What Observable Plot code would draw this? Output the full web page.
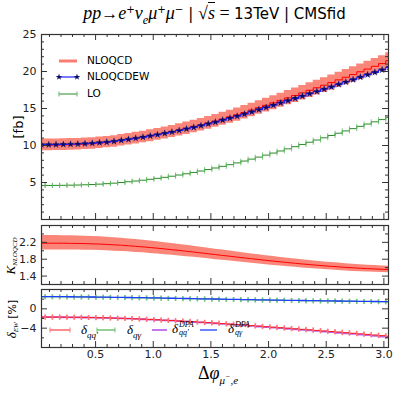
<!DOCTYPE html>
<html><head><meta charset="utf-8">
<script src="https://cdn.jsdelivr.net/npm/d3@7"></script>
<script src="https://cdn.jsdelivr.net/npm/@observablehq/plot@0.6"></script>
<style>
body{margin:0;background:#fff;}
#root{position:relative;width:399px;height:399px;overflow:hidden;font-family:"DejaVu Sans",sans-serif;color:#000;background:#fff;}
#root svg.p{position:absolute;left:0;}
.abs{position:absolute;white-space:nowrap;line-height:1;}
.m{font-family:"Liberation Serif",serif;font-style:italic;}
.rot{transform:translate(-50%,-50%) rotate(-90deg);}
sup,sub{font-size:68%;line-height:0;}
.ss{display:inline-flex;flex-direction:column;vertical-align:middle;font-size:62%;line-height:1.05;margin-left:1px;}
</style></head><body><div id="root"></div>
<script>
// ---------------- data ----------------
const dphi = [0.031,0.094,0.157,0.220,0.283,0.346,0.408,0.471,0.534,0.597,0.660,0.723,0.785,0.848,0.911,0.974,1.037,1.100,1.162,1.225,1.288,1.351,1.414,1.477,1.539,1.602,1.665,1.728,1.791,1.854,1.916,1.979,2.042,2.105,2.168,2.231,2.293,2.356,2.419,2.482,2.545,2.608,2.670,2.733,2.796,2.859,2.922,2.985,3.047];
const halfBin = 0.0314;
const sigmaLO = [4.60,4.60,4.61,4.62,4.64,4.66,4.69,4.73,4.78,4.84,4.91,5.00,5.10,5.20,5.31,5.43,5.56,5.70,5.85,6.01,6.18,6.36,6.55,6.75,6.96,7.18,7.41,7.65,7.90,8.16,8.43,8.70,8.98,9.26,9.55,9.84,10.14,10.44,10.74,11.04,11.35,11.66,11.97,12.28,12.59,12.90,13.20,13.50,13.80];
const sigmaNLOQCD = [10.03,10.03,10.05,10.07,10.10,10.13,10.18,10.24,10.32,10.41,10.51,10.66,10.81,10.95,11.11,11.28,11.46,11.65,11.85,12.07,12.29,12.53,12.77,13.03,13.29,13.57,13.86,14.15,14.46,14.78,15.11,15.43,15.76,16.09,16.43,16.76,17.11,17.46,17.80,18.14,18.50,18.87,19.22,19.59,19.96,20.33,20.70,21.07,21.46];
const sigmaNLOQCDHigh = [10.88,10.88,10.89,10.90,10.93,10.95,11.00,11.06,11.14,11.23,11.33,11.48,11.63,11.78,11.94,12.12,12.30,12.50,12.70,12.93,13.16,13.40,13.65,13.92,14.19,14.48,14.77,15.07,15.39,15.72,16.06,16.39,16.73,17.07,17.42,17.76,18.12,18.47,18.82,19.17,19.53,19.91,20.27,20.64,21.02,21.39,21.77,22.14,22.53];
const sigmaNLOQCDLow = [9.28,9.28,9.31,9.33,9.36,9.40,9.45,9.51,9.59,9.68,9.78,9.92,10.07,10.20,10.36,10.52,10.70,10.88,11.07,11.28,11.50,11.73,11.96,12.21,12.46,12.73,13.01,13.29,13.59,13.89,14.21,14.52,14.84,15.16,15.49,15.81,16.15,16.49,16.82,17.15,17.50,17.86,18.20,18.56,18.92,19.28,19.64,20.01,20.39];
const sigmaNLOQCDEW = [10.11,10.11,10.13,10.15,10.17,10.20,10.25,10.30,10.38,10.46,10.56,10.70,10.84,10.98,11.13,11.29,11.46,11.64,11.82,12.03,12.24,12.46,12.68,12.93,13.17,13.43,13.70,13.96,14.25,14.55,14.85,15.14,15.45,15.75,16.06,16.36,16.68,17.00,17.30,17.61,17.93,18.27,18.58,18.91,19.24,19.57,19.89,20.22,20.56];
const deltaQQ = [-1.70,-1.70,-1.71,-1.72,-1.73,-1.75,-1.77,-1.80,-1.83,-1.87,-1.91,-1.96,-2.01,-2.07,-2.13,-2.20,-2.27,-2.34,-2.42,-2.50,-2.58,-2.67,-2.76,-2.85,-2.95,-3.05,-3.15,-3.25,-3.36,-3.47,-3.58,-3.69,-3.80,-3.91,-4.02,-4.13,-4.24,-4.35,-4.46,-4.57,-4.69,-4.81,-4.93,-5.05,-5.17,-5.29,-5.41,-5.54,-5.67];
const deltaQG = [2.50,2.50,2.49,2.48,2.47,2.46,2.44,2.42,2.40,2.38,2.36,2.34,2.32,2.29,2.27,2.24,2.22,2.19,2.16,2.14,2.11,2.08,2.05,2.03,2.00,1.97,1.94,1.92,1.89,1.86,1.84,1.81,1.79,1.76,1.74,1.72,1.69,1.67,1.65,1.63,1.61,1.59,1.57,1.55,1.53,1.51,1.49,1.47,1.46];
const deltaQQdpa = [-1.72,-1.72,-1.73,-1.74,-1.75,-1.77,-1.79,-1.82,-1.85,-1.89,-1.93,-1.98,-2.03,-2.09,-2.16,-2.23,-2.30,-2.38,-2.46,-2.54,-2.63,-2.72,-2.81,-2.91,-3.01,-3.11,-3.21,-3.32,-3.43,-3.54,-3.66,-3.77,-3.89,-4.00,-4.12,-4.23,-4.35,-4.47,-4.58,-4.70,-4.82,-4.95,-5.07,-5.20,-5.33,-5.46,-5.59,-5.73,-5.87];
const deltaQGdpa = [2.53,2.53,2.52,2.51,2.50,2.49,2.47,2.45,2.43,2.41,2.39,2.37,2.35,2.32,2.30,2.27,2.25,2.22,2.19,2.17,2.14,2.11,2.08,2.06,2.03,2.00,1.97,1.95,1.92,1.89,1.87,1.84,1.82,1.79,1.77,1.75,1.72,1.70,1.68,1.66,1.64,1.62,1.60,1.58,1.56,1.54,1.52,1.50,1.49];

const xMajorTicks = [0.5,1.0,1.5,2.0,2.5,3.0];
const xTickLabels = ["0.5","1.0","1.5","2.0","2.5","3.0"];
const xMinorTicks = [0.1,0.2,0.3,0.4,0.6,0.7,0.8,0.9,1.1,1.2,1.3,1.4,1.6,1.7,1.8,1.9,2.1,2.2,2.3,2.4,2.6,2.7,2.8,2.9];
const yMainMajor = [5,10,15,20];
const yMainLabels = [5,10,15,20,25];
const yMainMinor = [1,2,3,4,6,7,8,9,11,12,13,14,16,17,18,19,21,22,23,24];
const kMajor = [1.4,1.8,2.2];
const kMinor = [1.6,2.0,2.4];
const dMajor = [-4,0];
const dLabels = ["\u22124","0"];
const dMinor = [-6,-2,2];

// ---------------- layout ----------------
const W = 399, ML = 41, MR = 11;
const FW = W - ML - MR;
const xDomain = [0.031, 3.04];
const frameColor = "#333";

const rows = dphi.map((x,i)=>({
  x, lo: sigmaLO[i], nlo: sigmaNLOQCD[i], bHi: sigmaNLOQCDHigh[i], bLo: sigmaNLOQCDLow[i],
  ew: sigmaNLOQCDEW[i], k: sigmaNLOQCD[i]/sigmaLO[i], kHi: sigmaNLOQCDHigh[i]/sigmaLO[i], kLo: sigmaNLOQCDLow[i]/sigmaLO[i],
  dqq: deltaQQ[i], dqg: deltaQG[i], dqqD: deltaQQdpa[i], dqgD: deltaQGdpa[i]
}));
function caps(key){ const out=[]; rows.forEach(r=>{ out.push({x:r.x-halfBin,y:r[key]}); out.push({x:r.x+halfBin,y:r[key]}); }); return out; }
const vbar = {draw(ctx,size){ const h=Math.sqrt(size/Math.PI); ctx.moveTo(0,-h); ctx.lineTo(0,h); }};

function frameTicks(xMaj,xMin,yMaj,yMin,fh){
  const m=[]; const o={stroke:frameColor,strokeWidth:1};
  for (const [v,len] of [[xMaj,6],[xMin,3]]) {
    m.push(Plot.ruleX(v,{...o,insetTop:fh-len}));
    m.push(Plot.ruleX(v,{...o,insetBottom:fh-len}));
  }
  for (const [v,len] of [[yMaj,6],[yMin,3]]) {
    m.push(Plot.ruleY(v,{...o,insetRight:FW-len}));
    m.push(Plot.ruleY(v,{...o,insetLeft:FW-len}));
  }
  return m;
}
const style = {background:"transparent",fontFamily:"DejaVu Sans",overflow:"visible"};
const root = document.getElementById("root");
function place(svg, top){ svg.classList.add("p"); svg.style.top = top+"px"; root.appendChild(svg); }

// main panel: frame 34..219
const fh1 = 185;
place(Plot.plot({
  width: W, height: 222, marginLeft: ML, marginRight: MR, marginTop: 34, marginBottom: 3, style,
  x:{domain:xDomain, axis:null}, y:{domain:[0,25], axis:null},
  marks:[
    Plot.areaY(rows,{x:"x",y1:"bLo",y2:"bHi",curve:"step",fill:"#fa7f72",fillOpacity:0.95,clip:true}),
    Plot.lineY(rows,{x:"x",y:"nlo",curve:"step",stroke:"#ff0000",strokeWidth:1,clip:true}),
    Plot.lineY(rows,{x:"x",y:"ew",curve:"step",stroke:"#2020ff",strokeWidth:1.2,clip:true}),
    Plot.dot(rows,{x:"x",y:"ew",symbol:"star",r:2.1,fill:"#0a0a6a",stroke:"#0a0a6a",strokeWidth:0.3,clip:true}),
    Plot.lineY(rows,{x:"x",y:"lo",curve:"step",stroke:"#2b8a2b",strokeWidth:1,clip:true}),
    Plot.dot(caps("lo"),{x:"x",y:"y",symbol:vbar,r:2.5,fill:"none",stroke:"#5cb85c",strokeOpacity:0.8,strokeWidth:1,clip:true}),
    Plot.frame({stroke:frameColor,strokeWidth:1.2}),
    ...frameTicks(xMajorTicks,xMinorTicks,yMainMajor,yMainMinor,fh1),
    Plot.text(yMainLabels,{y:d=>d,text:d=>String(d),frameAnchor:"left",dx:-5,textAnchor:"end",fontSize:11,fill:"#222"})
  ]
}), 0);

// K panel: frame 225..284
const fh2 = 59;
place(Plot.plot({
  width: W, height: 64, marginLeft: ML, marginRight: MR, marginTop: 3, marginBottom: 2, style,
  x:{domain:xDomain, axis:null}, y:{domain:[1.2,2.6], axis:null},
  marks:[
    Plot.areaY(rows,{x:"x",y1:"kLo",y2:"kHi",fill:"#fa7f72",fillOpacity:0.95,clip:true}),
    Plot.lineY(rows,{x:"x",y:"k",stroke:"#ff0000",strokeWidth:1,clip:true}),
    Plot.frame({stroke:frameColor,strokeWidth:1.2}),
    ...frameTicks(xMajorTicks,xMinorTicks,kMajor,kMinor,fh2),
    Plot.text(kMajor,{y:d=>d,text:d=>d.toFixed(1),frameAnchor:"left",dx:-5,textAnchor:"end",fontSize:11,fill:"#222"})
  ]
}), 222);

// delta panel: frame 289..347
const fh3 = 58;
place(Plot.plot({
  width: W, height: 113, marginLeft: ML, marginRight: MR, marginTop: 3, marginBottom: 52, style,
  x:{domain:xDomain, axis:null}, y:{domain:[-8,4], axis:null},
  marks:[
    Plot.lineY(rows,{x:"x",y:"dqg",curve:"step",stroke:"#2ca02c",strokeWidth:1,clip:true}),
    Plot.dot(caps("dqg"),{x:"x",y:"y",symbol:vbar,r:2.5,fill:"none",stroke:"#6cc46c",strokeOpacity:0.8,clip:true}),
    Plot.lineY(rows,{x:"x",y:"dqgD",curve:"step",stroke:"#1f3dff",strokeWidth:1.3,clip:true}),
    Plot.lineY(rows,{x:"x",y:"dqqD",curve:"step",stroke:"#b24be6",strokeWidth:1.8,strokeOpacity:0.85,clip:true}),
    Plot.lineY(rows,{x:"x",y:"dqq",curve:"step",stroke:"#ff1a1a",strokeWidth:1,clip:true}),
    Plot.dot(caps("dqq"),{x:"x",y:"y",symbol:vbar,r:2.5,fill:"none",stroke:"#ff7070",strokeOpacity:0.8,clip:true}),
    Plot.frame({stroke:frameColor,strokeWidth:1.2}),
    ...frameTicks(xMajorTicks,xMinorTicks,dMajor,dMinor,fh3),
    Plot.text(dMajor,{y:d=>d,text:(d,i)=>dLabels[i],frameAnchor:"left",dx:-5,textAnchor:"end",fontSize:11,fill:"#222"}),
    Plot.text(xMajorTicks,{x:d=>d,text:(d,i)=>xTickLabels[i],frameAnchor:"bottom",lineAnchor:"top",dy:3,fontSize:11,fill:"#222"})
  ]
}), 286);

// ---------------- legends (symbols) ----------------
const star = d3.symbol(d3.symbolStar, 2.1*2.1*Math.PI)();
const vb = (x,y,c)=>`<line x1="${x}" x2="${x}" y1="${y-2.5}" y2="${y+2.5}" stroke="${c}"/>`;
const overlay = `<svg width="399" height="399" style="position:absolute;left:0;top:0;pointer-events:none">
<line x1="59" x2="77" y1="61" y2="61" stroke="#fa7f72" stroke-width="3"/>
<line x1="59" x2="77" y1="77" y2="77" stroke="#2020ff" stroke-width="1.2"/>
<path d="${star}" transform="translate(59,77)" fill="#0a0a6a"/><path d="${star}" transform="translate(77,77)" fill="#0a0a6a"/>
<line x1="59" x2="77" y1="94" y2="94" stroke="#2b8a2b"/>${vb(59,94,"#5cb85c")}${vb(77,94,"#5cb85c")}
<line x1="50" x2="70" y1="330" y2="330" stroke="#ff1a1a"/>${vb(50,330,"#ff7070")}${vb(70,330,"#ff7070")}
<line x1="97" x2="115" y1="330" y2="330" stroke="#2ca02c"/>${vb(97,330,"#6cc46c")}${vb(115,330,"#6cc46c")}
<line x1="152" x2="167" y1="330" y2="330" stroke="#b24be6" stroke-width="1.8" stroke-opacity="0.85"/>
<line x1="200" x2="217" y1="330" y2="330" stroke="#1f3dff" stroke-width="1.3"/>
</svg>`;
root.insertAdjacentHTML("beforeend", overlay);

// ---------------- texts ----------------
const html = `
<div class="abs" style="left:41px;width:347px;top:4px;text-align:center;font-size:15px;">
<span class="m" style="font-size:18px">pp</span><span style="font-family:'Liberation Serif';font-size:17px">→</span><span class="m" style="font-size:18px">e</span><sup>+</sup><span class="m" style="font-size:18px">ν<sub>e</sub>μ</span><sup>+</sup><span class="m" style="font-size:18px">μ</span><sup>−</sup> | <span style="font-family:'Liberation Serif';font-size:18px">√</span><span class="m" style="font-size:18px;border-top:1px solid #000">s</span><span style="font-family:'Liberation Serif';font-size:18px"> = </span>13TeV | CMSfid</div>
<div class="abs" style="left:87px;top:55px;font-size:10.5px">NLOQCD</div>
<div class="abs" style="left:87px;top:71px;font-size:10.5px">NLOQCDEW</div>
<div class="abs" style="left:87px;top:88px;font-size:10.5px">LO</div>
<div class="abs rot" style="left:18px;top:127px;font-size:13px">[fb]</div>
<div class="abs rot" style="left:10px;top:256px;font-size:13px"><span class="m">K</span><span class="m" style="font-size:7px;position:relative;top:2px">NLOQCD</span></div>
<div class="abs rot" style="left:11px;top:319px;font-size:11px"><span class="m" style="font-size:13px">δ</span><span class="m" style="font-size:7px;position:relative;top:2px">EW</span> [%]</div>
<div class="abs" style="left:81px;top:323px;font-size:13px"><span class="m">δ</span><sub class="m" style="font-size:9px">qq′</sub></div>
<div class="abs" style="left:127px;top:323px;font-size:13px"><span class="m">δ</span><sub class="m" style="font-size:9px">qγ</sub></div>
<div class="abs" style="left:172px;top:321px;font-size:13px"><span class="m">δ</span><span class="ss m"><span>DPA</span><span>qq′</span></span></div>
<div class="abs" style="left:228px;top:321px;font-size:13px"><span class="m">δ</span><span class="ss m"><span>DPA</span><span>qγ</span></span></div>
<div class="abs" style="left:218px;top:373px;transform:translate(-50%,-50%);font-size:18px"><span style="font-family:'Liberation Serif'">Δ</span><span class="m">φ</span><sub class="m" style="font-size:11px">μ<sup style="font-size:8px">−</sup>,e</sub></div>
`;
root.insertAdjacentHTML("beforeend", html);
</script>
</body></html>
